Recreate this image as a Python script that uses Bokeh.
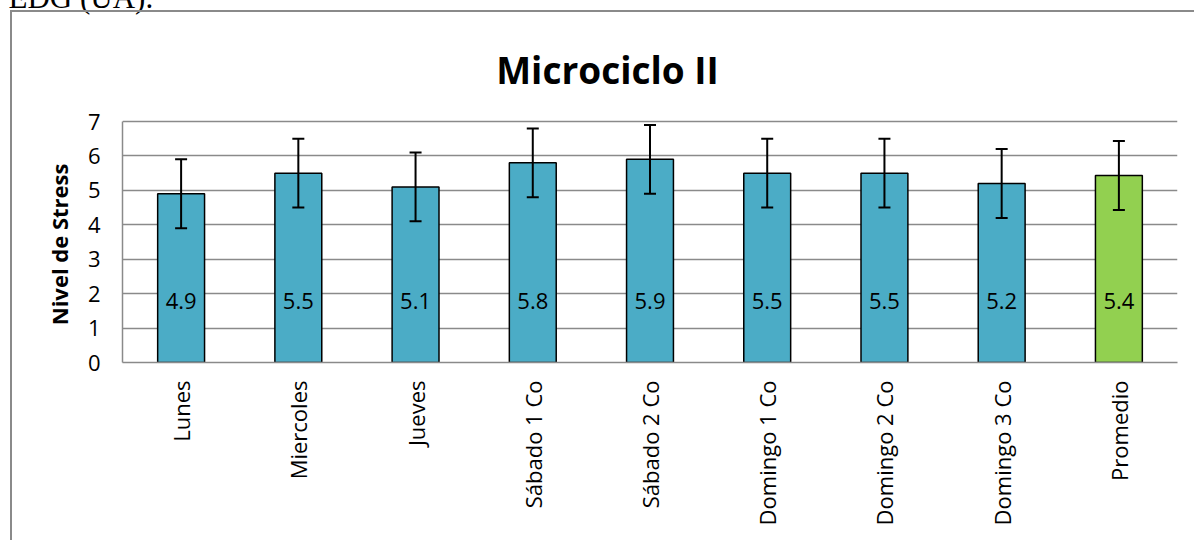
import math
from bokeh.plotting import figure
from bokeh.models import (FactorRange, Range1d, ColumnDataSource, Whisker, TeeHead,
                          Label, InlineStyleSheet)
from bokeh.core.properties import value
from bokeh.embed import file_html
from bokeh.resources import INLINE

# ---- data ----
categories = ["Lunes", "Miercoles", "Jueves", "Sábado 1 Co", "Sábado 2 Co",
              "Domingo 1 Co", "Domingo 2 Co", "Domingo 3 Co", "Promedio"]
stress = [4.9, 5.5, 5.1, 5.8, 5.9, 5.5, 5.5, 5.2, 5.43]
stress_err = [1.0, 1.0, 1.0, 1.0, 1.0, 1.0, 1.0, 1.0, 1.0]
value_labels = ["4.9", "5.5", "5.1", "5.8", "5.9", "5.5", "5.5", "5.2", "5.4"]
y_ticks = [0, 1, 2, 3, 4, 5, 6, 7]
title_text = "Microciclo II"
y_label = "Nivel de Stress"
caption_text = "EDG (UA)."

FONT = "Open Sans"
BLUE = "#4BACC6"
GREEN = "#92D050"
GRID = "#8a8a8a"

# layout: the frame reaches the canvas top so the chart title can sit inside it;
# the value axis itself only spans 0..7 (drawn from canvas y=121 to y=362)
Y_AXIS_MAX = y_ticks[-1]
FRAME_BOTTOM = 362
AXIS_TOP = 121
y_range_end = Y_AXIS_MAX * FRAME_BOTTOM / (FRAME_BOTTOM - AXIS_TOP)
# trailing figure spaces move the (frame-centred) axis title down onto the 0..7 span
LABEL_PAD = "\u2007" * 10

colors = [BLUE] * (len(categories) - 1) + [GREEN]

src = ColumnDataSource(dict(
    x=categories,
    top=stress,
    upper=[v + e for v, e in zip(stress, stress_err)],
    lower=[v - e for v, e in zip(stress, stress_err)],
    color=colors,
    lab=value_labels,
))

p = figure(width=1194, height=540, x_range=FactorRange(*categories),
           y_range=Range1d(0, y_range_end), output_backend="svg",
           toolbar_location=None,
           min_border_left=122, min_border_right=17, min_border_top=0,
           min_border_bottom=540 - FRAME_BOTTOM, background_fill_color="white",
           border_fill_color="white")
p.outline_line_color = None

p.vbar(x="x", top="top", width=0.4, source=src, fill_color="color",
       line_color="black", line_width=1.5)

wh = Whisker(base="x", upper="upper", lower="lower", source=src,
             line_color="black", line_width=2,
             upper_head=TeeHead(size=12, line_color="black", line_width=2),
             lower_head=TeeHead(size=12, line_color="black", line_width=2))
wh.level = "overlay"
p.add_layout(wh)

p.text(x="x", y=1.8, text="lab", source=src, text_align="center",
       text_baseline="middle", text_font=value(FONT), text_font_size="22px",
       text_color="black")

# axes
p.yaxis.ticker = y_ticks
p.yaxis.bounds = (0, Y_AXIS_MAX)
p.yaxis.axis_label = y_label + LABEL_PAD
p.yaxis.axis_label_text_font = FONT
p.yaxis.axis_label_text_font_style = "bold"
p.yaxis.axis_label_text_font_size = "22px"
p.yaxis.axis_label_text_color = "black"
p.yaxis.axis_label_standoff = 11
p.yaxis.axis_line_color = GRID
p.yaxis.axis_line_width = 1.5
p.yaxis.major_tick_line_color = None
p.yaxis.minor_tick_line_color = None
p.yaxis.major_tick_out = 0
p.yaxis.major_label_standoff = 22
p.yaxis.major_label_text_font = FONT
p.yaxis.major_label_text_font_size = "22px"
p.yaxis.major_label_text_color = "black"

p.xaxis.axis_line_color = GRID
p.xaxis.axis_line_width = 1.5
p.xaxis.major_tick_line_color = None
p.xaxis.minor_tick_line_color = None
p.xaxis.major_tick_out = 0
p.xaxis.major_label_orientation = math.pi / 2
p.xaxis.major_label_standoff = 18
p.xaxis.major_label_text_font = FONT
p.xaxis.major_label_text_font_size = "22px"
p.xaxis.major_label_text_color = "black"

p.xgrid.grid_line_color = None
p.ygrid.grid_line_color = GRID
p.ygrid.grid_line_width = 1.5

# caption above the chart box, partly cut off by the page top
p.title.text = caption_text
p.title.align = "left"
p.title.offset = -114
p.title.vertical_align = "top"
p.title.standoff = -42
p.title.text_font = "Liberation Serif"
p.title.text_font_style = "normal"
p.title.text_font_size = "31px"
p.title.text_color = "black"

# main chart title (inside the tall frame, above the value axis)
p.add_layout(Label(x=607, y=69, x_units="canvas", y_units="canvas",
                   text=title_text, text_align="center", text_baseline="alphabetic",
                   text_font=FONT, text_font_style="bold", text_font_size="37px",
                   text_color="black"))

# outer chart box via CSS
p.stylesheets = [InlineStyleSheet(css="""
:host { position: relative; }
:host::after {
  content: ''; position: absolute; left: 10px; top: 10px;
  width: 1184px; height: 530px; box-sizing: border-box;
  border-left: 2px solid #8a8a8a; border-top: 2px solid #8a8a8a;
  pointer-events: none;
}
""")]

open("out.html", "w").write(file_html(p, INLINE))
